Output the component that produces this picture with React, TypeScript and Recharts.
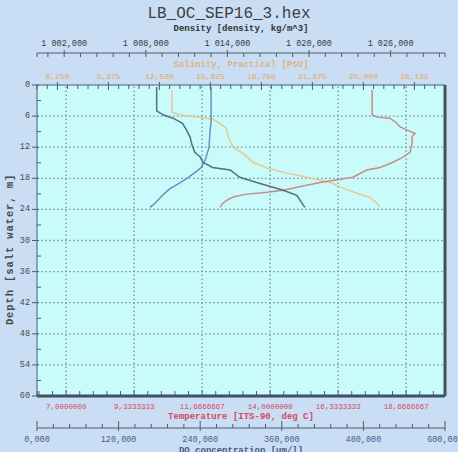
import React from "react";
import {
  ScatterChart,
  Scatter,
  XAxis,
  YAxis,
  CartesianGrid,
  ReferenceLine,
} from "recharts";

// profiles: [depth m, value]
const densityProfile: [number, number][] = [
  [0.4, 1008.8], [5.0, 1008.8], [5.8, 1009.3], [6.4, 1010.0], [7.4, 1010.7],
  [8.7, 1011.0], [10.0, 1011.25], [11.6, 1011.4], [13.0, 1011.6], [13.9, 1012.0],
  [14.9, 1012.2], [15.9, 1012.9], [16.4, 1014.2], [17.8, 1014.9], [19.0, 1016.4],
  [20.3, 1018.1], [21.3, 1019.1], [23.6, 1019.7],
];

const salinityProfile: [number, number][] = [
  [1.0, 13.27], [5.2, 13.27], [5.6, 13.58], [6.0, 14.19], [6.2, 14.99],
  [6.6, 15.78], [7.4, 16.21], [8.3, 16.58], [10.3, 16.76], [12.0, 17.0],
  [13.2, 17.62], [14.9, 18.24], [16.0, 19.09], [17.0, 20.32], [17.8, 21.54],
  [18.8, 22.95], [19.9, 23.75], [20.9, 24.6], [21.7, 25.4], [22.8, 25.83],
  [23.6, 26.02],
];

const temperatureProfile: [number, number][] = [
  [0.9, 17.5], [5.8, 17.5], [6.2, 17.67], [6.4, 18.11], [7.1, 18.29],
  [8.1, 18.46], [8.7, 18.7], [9.3, 18.97], [10.0, 18.87], [11.2, 18.87],
  [13.0, 18.8], [13.9, 18.56], [14.9, 18.22], [15.9, 17.77], [16.4, 17.32],
  [17.8, 16.84], [18.3, 16.3], [18.8, 15.71], [19.5, 15.13], [20.3, 14.44],
  [20.7, 13.89], [21.1, 13.14], [21.6, 12.73], [22.2, 12.52], [22.8, 12.38],
  [23.6, 12.28],
];

const oxygenProfile: [number, number][] = [
  [0.4, 256], [5.0, 256], [7.0, 256], [9.0, 254.4], [12.0, 253],
  [14.0, 248.5], [15.0, 245.6], [16.0, 241], [17.0, 231], [18.0, 220.6],
  [19.0, 208.8], [20.0, 195.6], [21.0, 186.8], [22.0, 179.4], [23.0, 172],
  [23.6, 166],
];

// labelled ticks
const depthLabels = [0, 6, 12, 18, 24, 30, 36, 42, 48, 54, 60];
const densityLabels = [1002, 1008, 1014, 1020, 1026];
const salinityLabels = [6.25, 9.375, 12.5, 15.625, 18.75, 21.875, 25, 28.125];
const temperatureLabels = [7, 9.3333333, 11.6666667, 14, 16.3333333, 18.6666667];
const oxygenLabels = [0, 120, 240, 360, 480, 600];

// minor tick marks between the labels
const steps = (first: number, step: number, min: number, max: number) => {
  const out: number[] = [];
  const k0 = Math.ceil((min - first) / step - 1e-9);
  for (let k = k0; first + k * step <= max + 1e-9; k++) {
    out.push(+(first + k * step).toFixed(7));
  }
  return out;
};

const densityTicks = [1000, ...steps(1002, 1.2, 1000, 1030), 1030];
const salinityTicks = steps(5, 0.625, 5, 30);
const temperatureTicks = [6, ...steps(7, 7 / 15, 6, 20), 20];
const oxygenTicks = steps(0, 24, 0, 600);
const depthTicks = steps(0, 3, 0, 60);

const toPoints = (rows: [number, number][]) => rows.map(([d, v]) => ({ d, v }));

const BG = "#c9ddf4";
const PLOT = "#cafbfb";
const AXIS = "#4e5d68";
const GRID = "#7592a3";
const MONO = "'Liberation Mono', 'DejaVu Sans Mono', monospace";

const comma = (v: number, n: number) => v.toFixed(n).replace(".", ",");

interface TickStyle {
  labels: number[];
  format: (v: number) => string;
  color: string;
  side: "horizontal" | "left";
  major: [number, number];
  minor: [number, number];
  offset: number;
  size: number;
}

const makeTick = (s: TickStyle) => (props: any) => {
  const { x, y, payload } = props;
  const v = payload.value as number;
  const isMajor = s.labels.some((m) => Math.abs(m - v) < 1e-4);
  const [a, b] = isMajor ? s.major : s.minor;
  if (s.side === "left") {
    return (
      <g>
        <line x1={x - a} x2={x + b} y1={y} y2={y} stroke={AXIS} strokeWidth={1} />
        {isMajor && (
          <text x={x - s.offset} y={y} textAnchor="end" dominantBaseline="central"
            fill={s.color} fontSize={s.size} fontFamily={MONO}>
            {s.format(v)}
          </text>
        )}
      </g>
    );
  }
  return (
    <g>
      <line x1={x} x2={x} y1={y - a} y2={y + b} stroke={AXIS} strokeWidth={1} />
      {isMajor && (
        <text x={x} y={y + s.offset} textAnchor="middle" dominantBaseline="central"
          fill={s.color} fontSize={s.size} fontFamily={MONO}>
          {s.format(v)}
        </text>
      )}
    </g>
  );
};

const axisTitle = (text: string, dy: number, color: string) => (props: any) => {
  const vb = props.viewBox;
  return (
    <text x={vb.x + vb.width / 2} y={vb.y + dy} textAnchor="middle" dominantBaseline="central"
      fill={color} fontSize={9} fontWeight="bold" fontFamily={MONO}>
      {text}
    </text>
  );
};

const depthTitle = (props: any) => {
  const vb = props.viewBox;
  const cx = 10;
  const cy = vb.y + vb.height / 2 + 9;
  return (
    <text x={cx} y={cy} textAnchor="middle" dominantBaseline="central"
      transform={`rotate(-90, ${cx}, ${cy})`} fill="#4a4a4a" fontSize={10.5}
      fontWeight="bold" letterSpacing={0.9} fontFamily={MONO}>
      Depth [salt water, m]
    </text>
  );
};

const NoDot = () => null;

export default function App() {
  return (
    <div style={{ position: "absolute", left: 0, top: 0, width: 458, height: 452, overflow: "hidden", background: BG }}>
      <div style={{ position: "absolute", top: 4, left: 0, width: 458, textAlign: "center",
        fontFamily: MONO, fontSize: 16, lineHeight: "20px", color: "#404040" }}>
        LB_OC_SEP16_3.hex
      </div>
      <ScatterChart width={458} height={458} margin={{ top: 20, right: 13, bottom: 0, left: 0 }}>
        <CartesianGrid xAxisId="a_temp" yAxisId="depth" horizontal={false} vertical={false} fill={PLOT} />

        <XAxis xAxisId="b_den" orientation="top" type="number" dataKey="v" domain={[1000, 1030]}
          allowDataOverflow ticks={densityTicks} interval={0} height={33}
          tickSize={0} tickMargin={0} tickLine={false}
          axisLine={{ stroke: AXIS }}
          tick={makeTick({ labels: densityLabels,
            format: (v) => comma(v, 3).replace(/^(\d)(\d{3})/, "$1 $2"), color: "#3a3a3a",
            side: "horizontal", major: [3, 4], minor: [0, 4], offset: -9, size: 8.5 })}
          label={{ content: axisTitle("Density [density, kg/m^3]", 9, "#333333") }} />
        <XAxis xAxisId="a_sal" orientation="top" type="number" dataKey="v" domain={[5, 30]}
          allowDataOverflow ticks={salinityTicks} interval={0} height={32}
          tickSize={0} tickMargin={0} tickLine={false}
          axisLine={{ stroke: AXIS }}
          tick={makeTick({ labels: salinityLabels, format: (v) => comma(v, 3), color: "#e0a868",
            side: "horizontal", major: [3, 5], minor: [0, 4], offset: -9, size: 8 })}
          label={{ content: axisTitle("Salinity, Practical [PSU]", 12, "#e4b27c") }} />

        <XAxis xAxisId="b_do" orientation="bottom" type="number" dataKey="v" domain={[0, 600]}
          allowDataOverflow ticks={oxygenTicks} interval={0} height={30}
          tickSize={0} tickMargin={0} tickLine={false}
          axisLine={{ stroke: AXIS }}
          tick={makeTick({ labels: oxygenLabels, format: (v) => comma(v, 3), color: "#4a5a8c",
            side: "horizontal", major: [7, 3], minor: [4, 0], offset: 12, size: 8.5 })}
          label={{ content: axisTitle("DO concentration [um/l]", 22.5, "#4a5a8c") }} />
        <XAxis xAxisId="a_temp" orientation="bottom" type="number" dataKey="v" domain={[6, 20]}
          allowDataOverflow ticks={temperatureTicks} interval={0} height={32}
          tickSize={0} tickMargin={0} tickLine={false}
          axisLine={{ stroke: "#3d505c", strokeWidth: 3 }}
          tick={makeTick({ labels: temperatureLabels, format: (v) => comma(v, 7), color: "#d44a5a",
            side: "horizontal", major: [6, 0], minor: [5, 0], offset: 10.5, size: 7.5 })}
          label={{ content: axisTitle("Temperature [ITS-90, deg C]", 21, "#d44a5a") }} />

        <YAxis yAxisId="depth" type="number" dataKey="d" domain={[0, 60]} reversed
          allowDataOverflow ticks={depthTicks} interval={0} width={37}
          tickSize={0} tickMargin={0} tickLine={false}
          axisLine={{ stroke: AXIS }}
          tick={makeTick({ labels: depthLabels, format: (v) => String(v), color: "#4a4a4a",
            side: "left", major: [5, 2], minor: [0, 4], offset: 7, size: 8.5 })}
          label={{ content: depthTitle }} />

        {temperatureLabels.map((t) => (
          <ReferenceLine key={`vx${t}`} xAxisId="a_temp" yAxisId="depth" x={t}
            stroke={GRID} strokeWidth={1.3} strokeDasharray="1.5 2.5" />
        ))}
        {depthLabels.slice(1, -1).map((d) => (
          <ReferenceLine key={`hy${d}`} xAxisId="a_temp" yAxisId="depth" y={d}
            stroke={GRID} strokeWidth={1.3} strokeDasharray="1.5 2.5" />
        ))}
        <ReferenceLine xAxisId="a_temp" yAxisId="depth" x={20} stroke="#3d505c" strokeWidth={3} />

        <Scatter data={toPoints(salinityProfile)} xAxisId="a_sal" yAxisId="depth"
          line={{ stroke: "#e6c98e", strokeWidth: 1.5 }} shape={<NoDot />} isAnimationActive={false} />
        <Scatter data={toPoints(temperatureProfile)} xAxisId="a_temp" yAxisId="depth"
          line={{ stroke: "#c98a8e", strokeWidth: 1.5 }} shape={<NoDot />} isAnimationActive={false} />
        <Scatter data={toPoints(oxygenProfile)} xAxisId="b_do" yAxisId="depth"
          line={{ stroke: "#6a8fc0", strokeWidth: 1.5 }} shape={<NoDot />} isAnimationActive={false} />
        <Scatter data={toPoints(densityProfile)} xAxisId="b_den" yAxisId="depth"
          line={{ stroke: "#55707b", strokeWidth: 1.5 }} shape={<NoDot />} isAnimationActive={false} />
      </ScatterChart>
    </div>
  );
}
